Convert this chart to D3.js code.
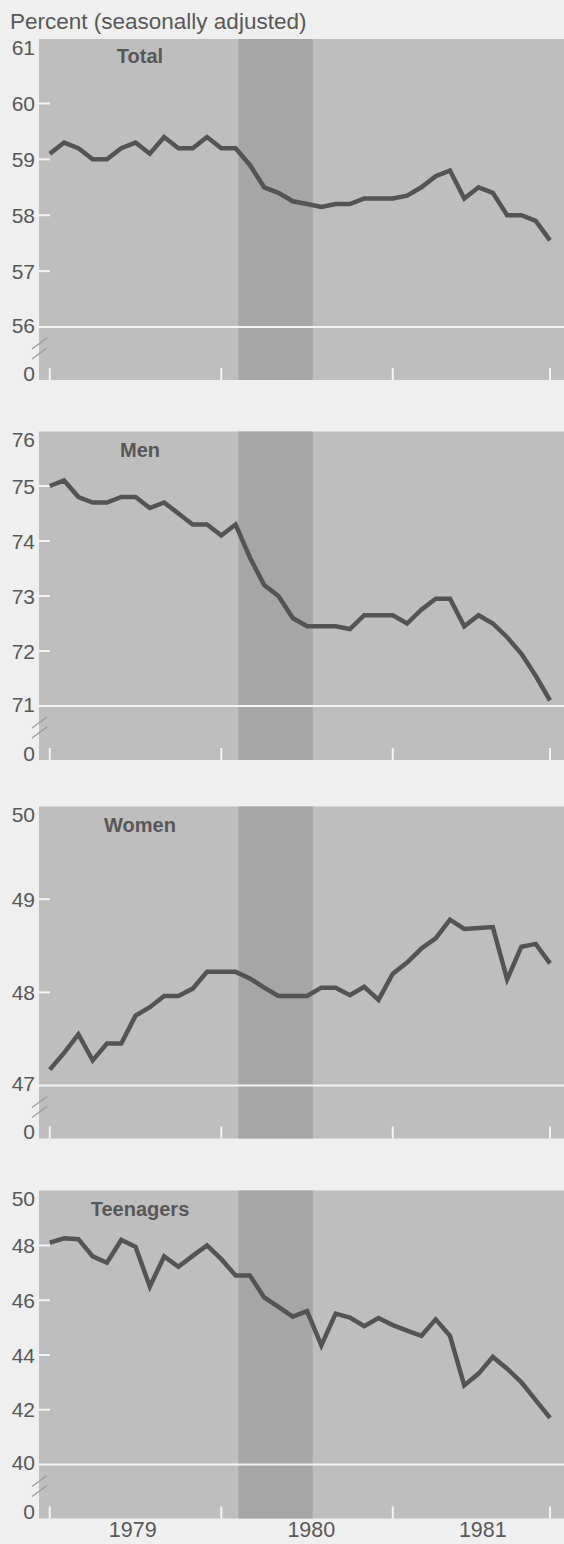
<!DOCTYPE html>
<html>
<head>
<meta charset="utf-8">
<script src="https://cdn.jsdelivr.net/npm/d3@7/dist/d3.min.js"></script>
<style>
  html, body { margin: 0; padding: 0; background: #efefef; }
  svg { display: block; font-family: "Liberation Sans", Arial, Helvetica, sans-serif; }
</style>
</head>
<body>
<svg id="chart" width="564" height="1544"></svg>
<script>
// ---- Data (monthly, Jan 1979 = index 0 ... Dec 1981 = index 35) ----
const months = d3.range(36);

const total = [59.1, 59.3, 59.2, 59.0, 59.0, 59.2, 59.3, 59.1, 59.4, 59.2, 59.2, 59.4,
               59.2, 59.2, 58.9, 58.5, 58.4, 58.25, 58.2, 58.15, 58.2, 58.2, 58.3, 58.3,
               58.3, 58.35, 58.5, 58.7, 58.8, 58.3, 58.5, 58.4, 58.0, 58.0, 57.9, 57.55];

const men = [75.0, 75.1, 74.8, 74.7, 74.7, 74.8, 74.8, 74.6, 74.7, 74.5, 74.3, 74.3,
             74.1, 74.3, 73.7, 73.2, 73.0, 72.6, 72.45, 72.45, 72.45, 72.4, 72.65, 72.65,
             72.65, 72.5, 72.75, 72.95, 72.95, 72.45, 72.65, 72.5, 72.25, 71.95, 71.55, 71.1];

const women = [47.17, 47.35, 47.55, 47.27, 47.45, 47.45, 47.75, 47.84, 47.96, 47.96, 48.04, 48.22,
               48.22, 48.22, 48.15, 48.05, 47.96, 47.96, 47.96, 48.05, 48.05, 47.97, 48.06, 47.92,
               48.2, 48.32, 48.47, 48.58, 48.78, 48.68, 48.69, 48.7, 48.14, 48.49, 48.52, 48.31];

const teens = [48.1, 48.26, 48.23, 47.6, 47.37, 48.2, 47.95, 46.5, 47.6, 47.22, 47.62, 48.0,
               47.5, 46.9, 46.9, 46.1, 45.76, 45.4, 45.6, 44.35, 45.51, 45.37, 45.05, 45.35,
               45.09, 44.89, 44.7, 45.3, 44.7, 42.89, 43.32, 43.93, 43.5, 43.0, 42.35, 41.7];

const seriesNames = ["Total", "Men", "Women", "Teenagers"];
const seriesData = [total, men, women, teens];

const yTicks = [[57, 58, 59, 60], [72, 73, 74, 75], [48, 49], [42, 44, 46, 48]];
const yBreakValues = [56, 71, 47, 40];
const yTopValues = [61, 76, 50, 50];

const xTickMonths = [0, 12, 24, 35];
const yearLabels = ["1979", "1980", "1981"];
const yearLabelMonths = [5.8, 18.3, 30.3];
const recession = [13.2, 18.4];   // Feb 1980 – Jul 1980

const titleText = "Percent (seasonally adjusted)";

// ---- Layout ----
const W = 564, H = 1544;
const panelLeft = 39, panelRight = 564;
const panelLayout = [
  { top: 39,    bottom: 380,    yRange: [327, 47.6] },
  { top: 431.5, bottom: 760,    yRange: [706, 431] },
  { top: 806.5, bottom: 1138.5, yRange: [1085.5, 806] },
  { top: 1190.5,bottom: 1518.5, yRange: [1464.5, 1190.7] }
];

const C = {
  page: "#efefef",
  panel: "#bebebe",
  shade: "#a6a6a6",
  line: "#545454",
  white: "#f4f4f4",
  text: "#585858",
  brk: "#9c9c9c"
};

const svg = d3.select("#chart");
svg.append("rect").attr("width", W).attr("height", H).attr("fill", C.page);

const x = d3.scaleLinear().domain([0, 35]).range([49.8, 550]);

svg.append("text")
  .attr("x", 10).attr("y", 29)
  .attr("font-size", 22.5).attr("fill", C.text)
  .text(titleText);

panelLayout.forEach((p, i) => {
  const g = svg.append("g");
  const y = d3.scaleLinear().domain([yBreakValues[i], yTopValues[i]]).range(p.yRange);

  // panel background
  g.append("rect")
    .attr("x", panelLeft).attr("y", p.top)
    .attr("width", panelRight - panelLeft).attr("height", p.bottom - p.top)
    .attr("fill", C.panel);

  // recession shading
  g.append("rect")
    .attr("x", x(recession[0])).attr("y", p.top)
    .attr("width", x(recession[1]) - x(recession[0])).attr("height", p.bottom - p.top)
    .attr("fill", C.shade);

  // white break line
  g.append("line")
    .attr("x1", panelLeft).attr("x2", panelRight)
    .attr("y1", y(yBreakValues[i])).attr("y2", y(yBreakValues[i]))
    .attr("stroke", C.white).attr("stroke-width", 2);

  // y ticks (white, inside panel)
  g.selectAll(".yt").data(yTicks[i]).enter().append("line")
    .attr("x1", panelLeft).attr("x2", panelLeft + 11)
    .attr("y1", d => y(d)).attr("y2", d => y(d))
    .attr("stroke", C.white).attr("stroke-width", 2);

  // x ticks (white, at bottom)
  g.selectAll(".xt").data(xTickMonths).enter().append("line")
    .attr("x1", d => x(d)).attr("x2", d => x(d))
    .attr("y1", p.bottom).attr("y2", p.bottom - 12)
    .attr("stroke", C.white).attr("stroke-width", 2);

  // y tick labels
  const lab = g.append("g").attr("font-size", 21).attr("fill", C.text).attr("text-anchor", "end");
  yTicks[i].forEach(v => {
    lab.append("text").attr("x", 35).attr("y", y(v)).attr("dy", "0.36em").text(v);
  });
  lab.append("text").attr("x", 35)
    .attr("y", Math.max(y(yTopValues[i]), p.top + 8)).attr("dy", "0.36em").text(yTopValues[i]);
  lab.append("text").attr("x", 35)
    .attr("y", y(yBreakValues[i]) - 2).attr("dy", "0.36em").text(yBreakValues[i]);
  lab.append("text").attr("x", 35)
    .attr("y", p.bottom - 7).attr("dy", "0.36em").text("0");

  // axis-break marks
  const yb = y(yBreakValues[i]);
  [[22, 11], [32, 21]].forEach(([a, b]) => {
    g.append("line")
      .attr("x1", 32).attr("y1", yb + a).attr("x2", 47).attr("y2", yb + b)
      .attr("stroke", C.brk).attr("stroke-width", 1.3);
  });

  // data line
  const line = d3.line().x((d, k) => x(months[k])).y(d => y(d));
  g.append("path")
    .datum(seriesData[i])
    .attr("d", line)
    .attr("fill", "none")
    .attr("stroke", C.line)
    .attr("stroke-width", 4.5)
    .attr("stroke-linejoin", "miter")
    .attr("stroke-miterlimit", 3);

  // panel label
  g.append("text")
    .attr("x", 140).attr("y", p.top + (i === 0 ? 24 : 25))
    .attr("text-anchor", "middle")
    .attr("font-size", 20).attr("font-weight", "bold")
    .attr("fill", C.text)
    .text(seriesNames[i]);
});

// year labels
svg.append("g").attr("font-size", 21.5).attr("fill", C.text).attr("text-anchor", "middle")
  .selectAll("text").data(yearLabels).enter().append("text")
  .attr("x", (d, k) => x(yearLabelMonths[k]))
  .attr("y", 1537)
  .text(d => d);
</script>
</body>
</html>
